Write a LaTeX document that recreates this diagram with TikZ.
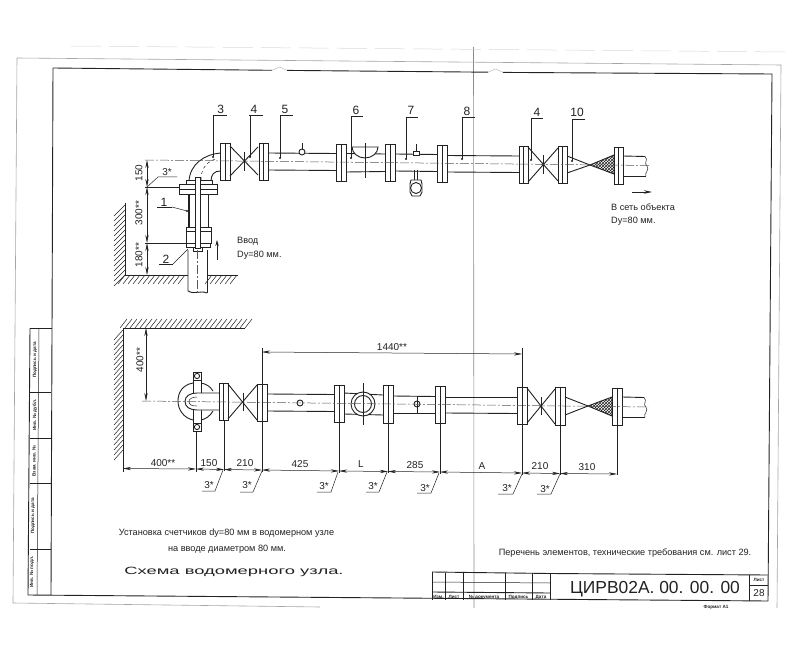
\documentclass[tikz,border=0pt]{standalone}
\usepackage{fontspec}
\usepackage{graphicx}
\setmainfont{Liberation Sans}
\usetikzlibrary{arrows.meta,patterns}
\definecolor{ink}{HTML}{222222}
\tikzset{
  pipe/.style={draw=ink,line width=0.9pt},
  thinl/.style={draw=ink,line width=0.5pt},
  frameline/.style={draw=ink,line width=0.9pt},
  fold/.style={draw=black!45,line width=0.6pt},
  axisl/.style={draw=black!65,line width=0.5pt,dash pattern=on 9pt off 2pt on 2pt off 2pt},
  dimen/.style={draw=ink,line width=0.5pt,{Stealth[length=8pt,width=3.2pt]}-{Stealth[length=8pt,width=3.2pt]}},
  sizetext/.style={font=\fontsize{10}{12}\selectfont,text=ink,inner sep=0pt},
  numtext/.style={font=\fontsize{12}{14}\selectfont,text=ink,inner sep=0pt},
  notetext/.style={font=\fontsize{9.15}{11}\selectfont,text=ink,inner sep=0pt},
  tiny/.style={font=\bfseries\fontsize{4.6}{5}\selectfont,text=ink,inner sep=0pt},
  side/.style={font=\bfseries\fontsize{4.6}{5}\selectfont,text=ink,inner sep=0pt,rotate=90},
  dotm/.style={fill=ink,draw=none}
}
\newcommand{\flng}[4]{\draw[pipe,fill=white] (#1,#3) rectangle (#2,#4);
  \draw[thinl] ({(#1+#2)/2},#3) -- ({(#1+#2)/2},#4);}
\newcommand{\callout}[6]{% text, tx, ty, x1, x2, uy / leader drops to dot
  \node[numtext] at (#2,#3) {#1};
  \draw[thinl] (#5,#6) -- (#4,#6);}
\newcommand{\lead}[3]{\draw[thinl] (#1,#2) -- (#1,#3); \fill[dotm] (#1,#3) circle (1.2pt);}
\newcommand{\weld}[7]{% start, knee, end-x, text pos
  \draw[thinl] (#1,#2) -- (#3,#4) -- (#5,#4);
  \node[sizetext] at (#6,#7) {3*};}
\begin{document}
\begin{tikzpicture}[x=1pt,y=-1pt]
\useasboundingbox (0,0) rectangle (800,655);
\fill[white] (0,0) rectangle (800,655);

% sheet marks
\draw[fold] (473.5,47) -- (474,608);
\draw[fold,black!35] (17,58) -- (781,65) -- (777,608);
\draw[fold,black!35] (17,58) -- (13,603) -- (320,607);
\draw[black!15,line width=0.5pt,dash pattern=on 30pt off 8pt] (71,46) -- (790,52);

% frame
\draw[frameline] (53,68) -- (272,70.3);
\draw[frameline] (287,70.4) -- (488,72.2);
\draw[frameline] (503,72.4) -- (772,74) -- (768,601);
\draw[black!30,line width=0.4pt] (272,70.3) -- (279.5,67) -- (287,70.4);
\draw[black!30,line width=0.4pt] (488,72.2) -- (495.5,69) -- (503,72.4);
\draw[frameline] (53,68) -- (51,595);
\draw[frameline] (28,595) -- (768,601);

% side stamp
\draw[frameline] (30,328) -- (52,328);
\draw[frameline] (30,328) -- (28,595);
\draw[thinl] (39,328) -- (37,595);
\foreach \yy in {392,438,483,549} {\draw[frameline] (29.5,\yy) -- (51,\yy);}
\node[side] (s1) at (35,360) {Подпись и дата};
\node[side] (s2) at (35,415) {Инв. № дубл.};
\node[side] (s3) at (34,461) {Взам. инв. №};
\node[side] (s4) at (33,516) {Подпись и дата};
\node[side] (s5) at (32,572) {Инв. № подл.};

% title block
\draw[frameline] (432,572) -- (550,573.5) -- (768,575);
\draw[frameline] (432,572) -- (432,600);
\foreach \xx in {445,463,505,532} {\draw[thinl] (\xx,572.5) -- (\xx,600);}
\draw[frameline] (550,573) -- (550,600);
\draw[frameline] (749,575) -- (749,601);
\draw[thinl] (432,582) -- (550,583);
\draw[frameline] (432,592) -- (550,593);
\draw[thinl] (749,585) -- (768,585);
\node[tiny] (t1) at (438.5,597) {Изм.};
\node[tiny] (t2) at (454,597) {Лист};
\node[tiny] (t3) at (484,597) {№ документа};
\node[tiny] (t4) at (518.5,597) {Подпись};
\node[tiny] (t5) at (541,597) {Дата};
\node[tiny] (t6) at (759,580) {Лист};
\node[sizetext] (t7) at (759,593) {28};
\node[text=ink,inner sep=0pt] (t8) at (655,589) {\fontsize{17.4}{20}\selectfont ЦИРВ02А. 00. 00. 00};
\node[tiny] (t9) at (716,607) {Формат А1};

% notes
\node[notetext] (n1) at (625,553) {Перечень элементов, технические требования см. лист 29.};
\node[notetext] (n2) at (226.5,533) {Установка счетчиков dy=80 мм в водомерном узле};
\node[notetext] (n3) at (227,549) {на вводе диаметром 80 мм.};
\node[text=ink,inner sep=0pt] (n4) at (234,572) {\scalebox{1.75}[1]{\fontsize{10.5}{13}\selectfont Схема водомерного узла.}};

%======== upper view ========
% walls
\draw[pipe] (125,203) -- (125,275) -- (188,275);
\draw[pipe] (207,275) -- (238,275);
\foreach \yy in {205,210,...,275} {\draw[thinl] (125,\yy) -- (114,\yy+11);}
\foreach \xx in {125,130,...,185} {\draw[thinl] (\xx,275) -- (\xx-7,284);}
\foreach \xx in {212,217,...,238} {\draw[thinl] (\xx,275) -- (\xx-7,284);}

% vertical pipe assembly
\draw[pipe] (188,250) -- (188,291) .. controls (195,295) and (200,290) .. (207,293);
\draw[pipe] (207,250) -- (207,293);
\draw[pipe,fill=white] (186,227) rectangle (211,243);
\draw[thinl] (186,231) -- (211,231);
\draw[pipe,fill=white] (186,243) rectangle (210,247);
\draw[pipe,fill=white] (193,247) rectangle (202,251);
\draw[pipe] (188,194) -- (188,227);
\draw[line width=1.3pt,ink] (189,194) -- (189,227);
\draw[pipe] (208,194) -- (208,227);
\draw[pipe,fill=white] (179,184) rectangle (217,194);
\draw[thinl] (179,189) -- (217,189);
\draw[pipe,fill=white] (186,180) rectangle (212,184);
% elbow
\draw[pipe] (220.7,153) .. controls (205,154) and (190,164) .. (189,181);
\draw[pipe] (220,171) .. controls (214,171) and (211,175) .. (211,181);
\draw[thinl,dashed] (215,159) .. controls (205,163) and (201,170) .. (201,180);
% bolt
\draw[pipe,fill=white] (195,177) rectangle (200,248);

% valves, pipes, flanges
\flng{220.7}{230}{143}{180}
\draw[pipe] (230,146) -- (258,175);
\draw[pipe] (230,176) -- (258,147);
\draw[pipe] (244,152) -- (244,171);
\flng{259}{268}{143}{180}
\draw[pipe] (268,153) -- (336,153.5);
\draw[pipe] (268,170) -- (336,170.5);
\flng{336}{346}{144}{181}
\draw[pipe] (346,153.5) -- (385,154);
\draw[pipe] (346,172) -- (385,171.5);
\draw[pipe,fill=white] (352,147) -- (378,147) .. controls (378,153) and (372,158) .. (365,158) .. controls (358,158) and (352,153) .. (352,147) -- cycle;
\draw[thinl] (365,143) -- (365,178);
\flng{385}{395}{144}{181}
\draw[pipe] (395,154) -- (437,154.5);
\draw[pipe] (395,171) -- (437,171.5);
\flng{437}{447}{145}{182}
\draw[pipe] (447,155.5) -- (519,156);
\draw[pipe] (447,172) -- (519,172.5);
\flng{519}{528}{146}{183}
\draw[pipe] (528,147) -- (558,181);
\draw[pipe] (528,182) -- (558,148);
\draw[pipe] (543,155) -- (543,174);
\fill[dotm] (543,164.5) circle (1.6pt);
\flng{558}{567}{146}{183}
\draw[pipe] (567,156) -- (590,165) -- (567,173);
\draw[pipe,fill=white,postaction={pattern=crosshatch,pattern color=ink}] (590,165) -- (614,155) -- (614,174) -- cycle;
\flng{614}{623}{147}{184}
\draw[pipe] (623,156) -- (645,156.5);
\draw[pipe] (623,176) -- (646,176);
\draw[thinl] (645,156.5) .. controls (649,160) and (643,163) .. (647,166) .. controls (650,170) and (644,173) .. (646,176);
% gauges
\draw[thinl] (302,143) -- (302,149);
\draw[pipe,fill=white] (302,152) circle (3pt);
\draw[thinl] (416,144) -- (416,151);
\draw[pipe,fill=white] (413,151) rectangle (419,155);
\draw[pipe] (414.5,170) -- (414.5,180);
\draw[pipe] (417.5,170) -- (417.5,180);
\draw[pipe,fill=white] (411,180) -- (421,180) -- (422,184) -- (422,192) -- (420,196) -- (412,196) -- (410,192) -- (410,184) -- cycle;
\draw[pipe] (416,188) circle (5.5pt);
% axes
\draw[axisl] (145,160) -- (650,165.5);
\draw[axisl] (197.5,250) -- (197.5,293);

% callouts
\callout{3}{220.7}{109}{213}{227}{115} \lead{213}{115}{157}
\callout{4}{254}{109}{249}{263}{115}   \lead{250}{115}{157}
\callout{5}{285}{109}{280}{293}{115}   \lead{280}{115}{158}
\callout{6}{356}{110}{351}{363}{116}   \lead{351}{116}{158}
\callout{7}{411}{110}{406}{418}{117}   \lead{406}{117}{159}
\callout{8}{467}{111}{462}{475}{117}   \lead{462}{117}{159}
\callout{4}{537}{112}{531}{543}{118}   \lead{531}{118}{160}
\callout{10}{577}{112}{572}{585}{119}  \lead{572}{119}{161}
\callout{1}{164}{202}{157}{172}{207}
\draw[thinl] (172,207) -- (187,211); \fill[dotm] (187,211) circle (1.2pt);
\callout{2}{166}{259}{159}{173}{264}
\draw[thinl] (173,264) -- (188,249);

% vertical dimensions
\draw[thinl] (145,187) -- (179,187);
\draw[thinl] (145,243) -- (186,243);
\draw[dimen] (147,160) -- (147,187);
\draw[dimen] (147,187) -- (147,243);
\draw[dimen] (147,243) -- (147,275);
\node[sizetext,rotate=90] (d1) at (139,173) {150};
\node[sizetext,rotate=90] (d2) at (139,213) {300**};
\node[sizetext,rotate=90] (d3) at (139,255) {180**};
\draw[thinl] (147,187) -- (158,177) -- (177,177);
\node[sizetext] (d4) at (167,172) {3*};

% inlet/outlet notes
\draw[ink,line width=0.7pt,-{Stealth[length=6pt,width=3.5pt]}] (217,260) -- (217,240);
\node[notetext,anchor=west] (v1) at (237,241) {Ввод};
\node[notetext,anchor=west] (v2) at (237,255) {Dy=80 мм.};
\draw[ink,line width=0.7pt,-{Stealth[length=8pt,width=3.5pt]}] (632,192) -- (652,192);
\node[notetext,anchor=west] (v3) at (611,207) {В сеть объекта};
\node[notetext,anchor=west] (v4) at (611,221) {Dy=80 мм.};

%======== lower view ========
\draw[pipe] (123,328) -- (245,328);
\draw[pipe] (123,328) -- (123,472);
\foreach \xx in {120,125,...,245} {\draw[thinl] (\xx,328) -- (\xx+7,319);}
\foreach \yy in {330,335,...,450} {\draw[thinl] (123,\yy) -- (114,\yy+10);}

% elbow plan
\draw[pipe] (193,383) .. controls (182,385) and (178,393) .. (178,401) .. controls (178,410) and (184,418) .. (193,420);
\draw[pipe] (201,383) .. controls (206,384) and (210,386) .. (213,391);
\draw[pipe] (201,420) .. controls (206,419) and (210,416) .. (213,411);
\draw[pipe,fill=white] (193,372) rectangle (201,431);
\draw[pipe] (193,380) -- (201,380);
\draw[pipe] (193,423) -- (201,423);
\draw[pipe] (197,376) circle (2.6pt);
\draw[pipe] (197,427) circle (2.6pt);
\draw[pipe,fill=white] (219,393) -- (197,393) .. controls (190,393) and (185,396) .. (185,401.5) .. controls (185,407) and (190,410) .. (197,410) -- (219,410);
\draw[thinl] (197,397) .. controls (192,397) and (189,399) .. (189,401.5) .. controls (189,405) and (192,406) .. (197,406);

\flng{219}{228}{383}{420}
\draw[pipe] (228,384) -- (257,420);
\draw[pipe] (228,419) -- (257,385);
\draw[pipe] (243,393) -- (243,411);
\flng{257}{267}{384}{421}
\draw[pipe] (267,394) -- (334,394.5);
\draw[pipe] (267,411) -- (334,411.5);
\draw[pipe] (300,403) circle (3pt);
\flng{334}{344}{385}{422}
\draw[pipe] (344,393) -- (383,395);
\draw[pipe] (344,414) -- (383,415);
\draw[pipe,fill=white] (363,404) circle (12pt);
\draw[pipe] (363,404) circle (8.5pt);
\draw[thinl] (363,383) -- (363,425);
\flng{383}{393}{385}{423}
\draw[pipe] (393,396) -- (435,396.5);
\draw[pipe] (393,413) -- (435,413);
\draw[pipe] (417,404) circle (3pt);
\draw[thinl] (417,396) -- (417,413);
\flng{435}{445}{386}{423}
\draw[pipe] (445,397) -- (517,397);
\draw[pipe] (445,413) -- (517,413.5);
\flng{517}{527}{387}{424}
\draw[pipe] (527,388) -- (555,424);
\draw[pipe] (527,423) -- (555,389);
\draw[pipe] (541,397) -- (541,415);
\fill[dotm] (541,406) circle (1.6pt);
\flng{555}{565}{387}{425}
\draw[pipe] (565,397) -- (588,406) -- (565,415);
\draw[pipe,fill=white,postaction={pattern=crosshatch,pattern color=ink}] (588,406) -- (612,397) -- (612,416) -- cycle;
\flng{612}{622}{388}{425}
\draw[pipe] (622,397) -- (644,397.5);
\draw[pipe] (622,417) -- (645,417);
\draw[thinl] (644,397.5) .. controls (648,401) and (642,404) .. (646,407) .. controls (649,411) and (643,414) .. (645,417);
\draw[axisl] (142,401) -- (648,407);

% extension lines
\draw[thinl] (196,431) -- (196,472);
\draw[thinl] (224,420) -- (224,471);
\draw[thinl] (262,348) -- (262,472);
\draw[thinl] (339,422) -- (339,473);
\draw[thinl] (388,423) -- (388,473);
\draw[thinl] (440,423) -- (440,474);
\draw[thinl] (522,348) -- (522,475);
\draw[thinl] (560,425) -- (560,475);
\draw[thinl] (617,425) -- (617,475);

% dimensions
\draw[dimen] (146,328) -- (146,401);
\node[sizetext,rotate=90] (e0) at (140,360) {400**};
\draw[dimen] (262,352) -- (522,354);
\node[sizetext] (e1) at (392,347) {1440**};
\draw[dimen] (123,468.5) -- (196,469);
\draw[dimen] (196,469) -- (224,469.5);
\draw[dimen] (224,469.5) -- (262,470);
\draw[dimen] (262,470) -- (339,471);
\draw[dimen] (339,471) -- (388,471.5);
\draw[dimen] (388,471.5) -- (440,472);
\draw[dimen] (440,472) -- (522,473);
\draw[dimen] (522,473) -- (560,473.5);
\draw[dimen] (560,473.5) -- (617,474);
\node[sizetext] (f1) at (163,463) {400**};
\node[sizetext] (f2) at (209,463) {150};
\node[sizetext] (f3) at (245,463) {210};
\node[sizetext] (f4) at (300,464) {425};
\node[sizetext] (f5) at (361,464) {L};
\node[sizetext] (f6) at (415,465) {285};
\node[sizetext] (f7) at (482,466) {A};
\node[sizetext] (f8) at (540,466) {210};
\node[sizetext] (f9) at (587,467) {310};

% weld marks
\weld{223}{470}{215}{491}{202}{209}{485}
\weld{262}{471}{253}{492}{240}{247}{485}
\weld{338}{472}{331}{492}{317}{324}{486}
\weld{387}{472}{379}{492}{366}{373}{486}
\weld{439}{473}{431}{493}{417}{425}{488}
\weld{522}{474}{513}{494}{498}{507}{488}
\weld{560}{474}{551}{494}{537}{545}{489}
\end{tikzpicture}
\end{document}
